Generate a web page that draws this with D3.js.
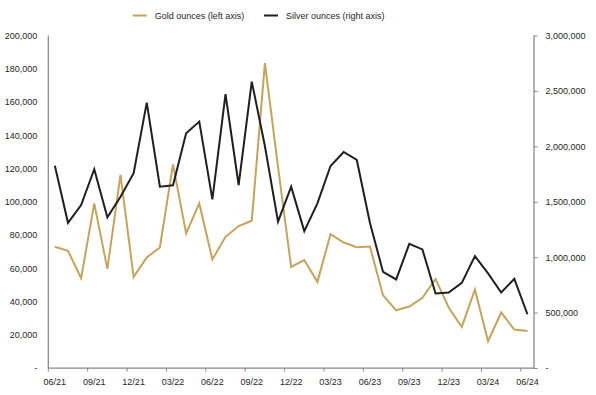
<!DOCTYPE html>
<html>
<head>
<meta charset="utf-8">
<script src="https://cdn.jsdelivr.net/npm/d3@7"></script>
<style>
  body { margin: 0; background: #fff; }
  svg text { font-family: "Liberation Sans", Arial, sans-serif; font-size: 9px; fill: #262626; }
</style>
</head>
<body>
<svg id="chart" width="596" height="395"></svg>
<script>
const months = ['06/21','07/21','08/21','09/21','10/21','11/21','12/21','01/22','02/22','03/22',
  '04/22','05/22','06/22','07/22','08/22','09/22','10/22','11/22','12/22','01/23',
  '02/23','03/23','04/23','05/23','06/23','07/23','08/23','09/23','10/23','11/23',
  '12/23','01/24','02/24','03/24','04/24','05/24','06/24'];

const gold = [72900, 70500, 54000, 99000, 59600, 116100, 54800, 66500, 72500, 122500,
  81000, 99000, 65300, 78900, 85400, 88600, 183400, 121000, 60800, 64900,
  51800, 80500, 75500, 72700, 73100, 43800, 34700, 37000, 42200, 53600,
  36400, 24700, 47200, 16100, 33400, 23100, 22300];

const silver = [1825000, 1310000, 1470000, 1793000, 1359000, 1545000, 1757000, 2394000, 1636000, 1648000,
  2118000, 2223000, 1522000, 2470000, 1651000, 2584000, 2003000, 1320000, 1636000, 1235000,
  1486000, 1823000, 1949000, 1877000, 1310000, 867000, 799000, 1120000, 1070000, 672000,
  681000, 768000, 1009000, 853000, 681000, 804000, 485000];

const leftTicks = [0, 20000, 40000, 60000, 80000, 100000, 120000, 140000, 160000, 180000, 200000];
const rightTicks = [0, 500000, 1000000, 1500000, 2000000, 2500000, 3000000];

const series = [
  { label: 'Gold ounces (left axis)', values: gold, color: '#C6A35B', axis: 'left' },
  { label: 'Silver ounces (right axis)', values: silver, color: '#1F1F1F', axis: 'right' }
];

const svg = d3.select('#chart');
const axisColor = '#868686';
const plot = { left: 48.3, right: 534, top: 35.5, bottom: 368 };

const x = d3.scaleBand().domain(months).range([plot.left, plot.right]);
const yL = d3.scaleLinear().domain([0, 200000]).range([plot.bottom, plot.top]);
const yR = d3.scaleLinear().domain([0, 3000000]).range([plot.bottom, plot.top]);

const fmt = v => v === 0 ? '-' : d3.format(',')(v);

// left axis
const gL = svg.append('g')
  .attr('transform', `translate(${plot.left},0)`)
  .call(d3.axisLeft(yL).tickValues(leftTicks).tickFormat(fmt).tickSize(0).tickPadding(11));

// right axis
const gR = svg.append('g')
  .attr('transform', `translate(${plot.right},0)`)
  .call(d3.axisRight(yR).tickValues(rightTicks).tickFormat(fmt).tickSize(3.5).tickPadding(8));

// bottom axis, ticks on category boundaries every 3 months
const gB = svg.append('g').attr('transform', `translate(0,${plot.bottom})`);
gB.append('line')
  .attr('x1', plot.left).attr('x2', plot.right)
  .attr('stroke', axisColor).attr('stroke-width', 1.25);
const quarterly = months.filter((m, i) => i % 3 === 0);
gB.selectAll('line.tick')
  .data(quarterly)
  .join('line')
    .attr('class', 'tick')
    .attr('x1', d => x(d)).attr('x2', d => x(d))
    .attr('y1', 0).attr('y2', 3.5)
    .attr('stroke', axisColor).attr('stroke-width', 1);
gB.selectAll('text')
  .data(quarterly)
  .join('text')
    .attr('x', d => x(d) + x.bandwidth() / 2)
    .attr('y', 17)
    .attr('text-anchor', 'middle')
    .text(d => d);

[gL, gR].forEach(g => {
  g.select('.domain')
    .attr('stroke', axisColor).attr('stroke-width', 1.25)
    .attr('d', `M0,${plot.top}V${plot.bottom}`);
  g.selectAll('.tick line').attr('stroke', axisColor);
  g.selectAll('.tick text').attr('fill', '#262626');
});

// lines
series.forEach(s => {
  const y = s.axis === 'left' ? yL : yR;
  const line = d3.line()
    .x((d, i) => x(months[i]) + x.bandwidth() / 2)
    .y(d => y(d));
  svg.append('path')
    .datum(s.values)
    .attr('fill', 'none')
    .attr('stroke', s.color)
    .attr('stroke-width', 2)
    .attr('stroke-linejoin', 'miter')
    .attr('d', line);
});

// legend
const legendX = [132.7, 264];
const legend = svg.append('g').attr('class', 'legend');
series.forEach((s, i) => {
  const g = legend.append('g').attr('transform', `translate(${legendX[i]},15.5)`);
  g.append('line')
    .attr('x1', 0).attr('x2', 14)
    .attr('stroke', s.color).attr('stroke-width', 2);
  g.append('text')
    .attr('x', 22).attr('y', 3.2)
    .text(s.label);
});
</script>
</body>
</html>
